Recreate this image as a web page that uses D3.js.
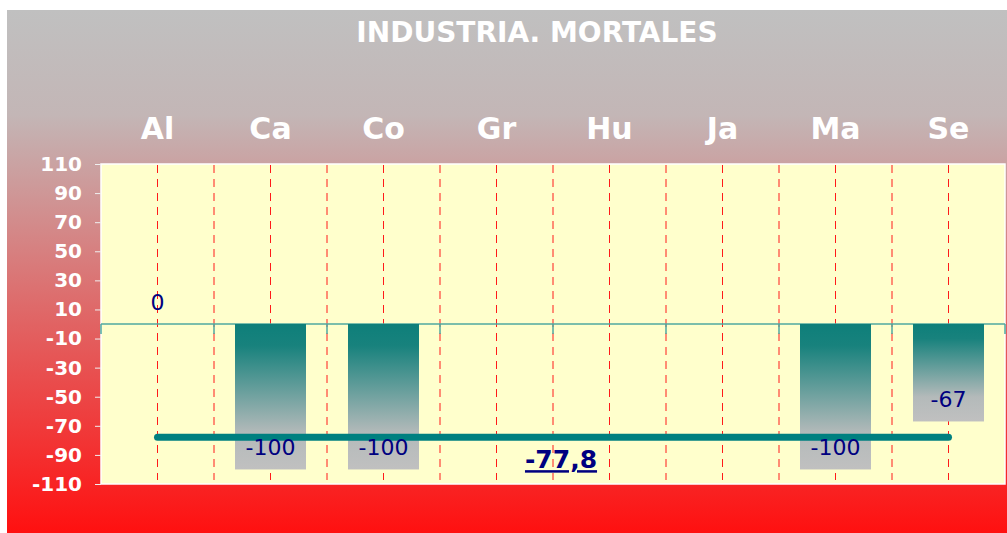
<!DOCTYPE html>
<html>
<head>
<meta charset="utf-8">
<script src="https://cdn.jsdelivr.net/npm/d3@7"></script>
<style>
  body { margin: 0; background: #fff; }
  svg text { font-family: "DejaVu Sans", Verdana, sans-serif; }
</style>
</head>
<body>
<div id="chart"></div>
<script>
// chart data
var categories = ['Al', 'Ca', 'Co', 'Gr', 'Hu', 'Ja', 'Ma', 'Se'];
var values = [0, -100, -100, null, null, null, -100, -67];
var average = -77.8;
var averageLabel = '-77,8';
var yTicks = [110, 90, 70, 50, 30, 10, -10, -30, -50, -70, -90, -110];
var chartTitle = 'INDUSTRIA. MORTALES';

var width = 1007, height = 533;
var plot = { left: 101, right: 1005, top: 164, bottom: 484 };

var svg = d3.select('#chart').append('svg')
    .attr('width', width)
    .attr('height', height);

var defs = svg.append('defs');

var bg = defs.append('linearGradient')
    .attr('id', 'bgGrad')
    .attr('x1', 0).attr('y1', 0).attr('x2', 0).attr('y2', 1);
bg.append('stop').attr('offset', '0%').attr('stop-color', '#c0c0c0');
bg.append('stop').attr('offset', '20%').attr('stop-color', '#c3b6b6');
bg.append('stop').attr('offset', '100%').attr('stop-color', '#ff1010');

var barGrad = defs.append('linearGradient')
    .attr('id', 'barGrad')
    .attr('x1', 0).attr('y1', 0).attr('x2', 0).attr('y2', 1);
barGrad.append('stop').attr('offset', '0%').attr('stop-color', '#0e7f7a');
barGrad.append('stop').attr('offset', '15%').attr('stop-color', '#18827d');
barGrad.append('stop').attr('offset', '75%').attr('stop-color', '#b4baba');
barGrad.append('stop').attr('offset', '100%').attr('stop-color', '#c0c0c0');

// background panel
svg.append('rect')
    .attr('x', 7).attr('y', 10)
    .attr('width', width - 7).attr('height', height - 10)
    .attr('fill', 'url(#bgGrad)');

var x = d3.scaleBand()
    .domain(categories)
    .range([plot.left, plot.right]);

var y = d3.scaleLinear()
    .domain([-110, 110])
    .range([plot.bottom, plot.top]);

// plot area
svg.append('rect')
    .attr('x', plot.left).attr('y', plot.top)
    .attr('width', plot.right - plot.left).attr('height', plot.bottom - plot.top)
    .attr('fill', '#ffffcc')
    .attr('stroke', '#ffffff')
    .attr('stroke-width', 1.5);

// dashed red gridlines at centers and band boundaries
var gridX = [];
categories.forEach(function (c, i) {
    gridX.push(x(c) + x.bandwidth() / 2);
    if (i > 0) gridX.push(x(c));
});
svg.append('g')
    .selectAll('line')
    .data(gridX)
    .enter()
    .append('line')
    .attr('x1', function (d) { return d; })
    .attr('x2', function (d) { return d; })
    .attr('y1', plot.top + 1)
    .attr('y2', plot.bottom - 4)
    .attr('stroke', '#ff1a1a')
    .attr('stroke-width', 1)
    .attr('stroke-dasharray', '8,6');

// y axis (plain hyphen for negatives, like the original)
var yAxis = svg.append('g')
    .attr('transform', 'translate(' + plot.left + ',0)')
    .call(d3.axisLeft(y).tickValues(yTicks).tickSize(6).tickPadding(13)
        .tickFormat(function (d) { return String(d); }));
yAxis.select('.domain').remove();
yAxis.selectAll('line').attr('stroke', '#f0f0f0');
yAxis.selectAll('text')
    .attr('fill', '#ffffff')
    .style('font-size', '20px')
    .style('font-weight', 'bold')
    .style('font-family', '"DejaVu Sans", Verdana, sans-serif');

// category labels on top
svg.append('g')
    .selectAll('text')
    .data(categories)
    .enter()
    .append('text')
    .attr('x', function (d) { return x(d) + x.bandwidth() / 2; })
    .attr('y', 139)
    .attr('text-anchor', 'middle')
    .attr('fill', '#ffffff')
    .style('font-size', '30px')
    .style('font-weight', 'bold')
    .text(function (d) { return d; });

// title
svg.append('text')
    .attr('x', 537)
    .attr('y', 42)
    .attr('text-anchor', 'middle')
    .attr('fill', '#ffffff')
    .style('font-size', '28px')
    .style('font-weight', 'bold')
    .text(chartTitle);

// zero axis with tick marks at band boundaries
var zeroY = y(0);
svg.append('line')
    .attr('x1', plot.left).attr('x2', plot.right)
    .attr('y1', zeroY).attr('y2', zeroY)
    .attr('stroke', '#4fa8a0')
    .attr('stroke-width', 1.5);
var boundaries = categories.map(function (c) { return x(c); }).concat([plot.right]);
svg.append('g')
    .selectAll('line')
    .data(boundaries)
    .enter()
    .append('line')
    .attr('x1', function (d) { return d; })
    .attr('x2', function (d) { return d; })
    .attr('y1', zeroY)
    .attr('y2', zeroY + 10)
    .attr('stroke', '#4fa8a0')
    .attr('stroke-width', 1.5);

// bars
var data = categories.map(function (c, i) { return { cat: c, value: values[i] }; });
var barW = 71;
svg.append('g')
    .selectAll('rect')
    .data(data.filter(function (d) { return d.value !== null && d.value !== 0; }))
    .enter()
    .append('rect')
    .attr('x', function (d) { return x(d.cat) + x.bandwidth() / 2 - barW / 2; })
    .attr('y', function (d) { return Math.min(y(d.value), zeroY); })
    .attr('width', barW)
    .attr('height', function (d) { return Math.abs(y(d.value) - zeroY); })
    .attr('fill', 'url(#barGrad)');

// average line
svg.append('line')
    .attr('x1', x(categories[0]) + x.bandwidth() / 2)
    .attr('x2', x(categories[categories.length - 1]) + x.bandwidth() / 2)
    .attr('y1', y(average))
    .attr('y2', y(average))
    .attr('stroke', '#008080')
    .attr('stroke-width', 7)
    .attr('stroke-linecap', 'round');

// value labels
svg.append('g')
    .selectAll('text')
    .data(data.filter(function (d) { return d.value !== null; }))
    .enter()
    .append('text')
    .attr('x', function (d) { return x(d.cat) + x.bandwidth() / 2; })
    .attr('y', function (d) { return d.value === 0 ? zeroY - 14 : y(d.value) - 14; })
    .attr('text-anchor', 'middle')
    .attr('fill', '#000080')
    .style('font-size', '22px')
    .text(function (d) { return d.value; });

// average label
var avgMid = (x(categories[0]) + x(categories[categories.length - 1]) + x.bandwidth()) / 2;
svg.append('text')
    .attr('x', avgMid + 8)
    .attr('y', y(average) + 31)
    .attr('text-anchor', 'middle')
    .attr('fill', '#000080')
    .style('font-size', '25px')
    .style('font-weight', 'bold')
    .style('text-decoration', 'underline')
    .text(averageLabel);
</script>
</body>
</html>
